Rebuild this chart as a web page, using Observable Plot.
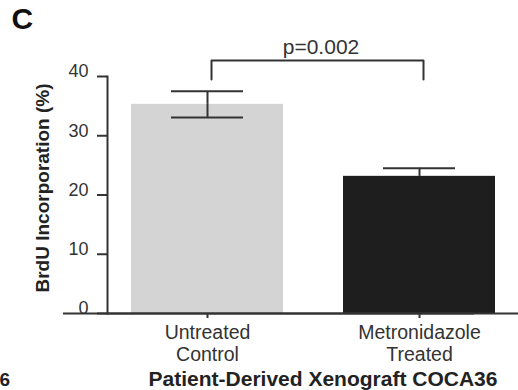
<!DOCTYPE html>
<html>
<head>
<meta charset="utf-8">
<script src="https://cdn.jsdelivr.net/npm/d3@7"></script>
<script src="https://cdn.jsdelivr.net/npm/@observablehq/plot@0.6"></script>
<style>
  html, body { margin: 0; padding: 0; background: #fff; }
  #chart svg { display: block; }
  #chart [aria-label="ytick-labels"] text { letter-spacing: 1px; }
  #chart [aria-label="xtick-labels"] text { letter-spacing: 0.5px; }
  #chart [aria-label="ylabel"] text { letter-spacing: 1px; }
  #chart [aria-label="xtitle"] text { letter-spacing: 0.5px; }
</style>
</head>
<body>
<div id="chart"></div>
<script>
// ---- data ----
const categories = ["Untreated\nControl", "Metronidazole\nTreated"];
const means = [35.3, 23.15];
const sems = [2.2, 1.35];
const barColors = ["#d4d4d4", "#1e1e1e"];
const yTicks = [0, 10, 20, 30, 40];
const yLabel = "BrdU Incorporation (%)";
const xTitle = "Patient-Derived Xenograft COCA36";
const pLabel = "p=0.002";
const bracketLow = 39.5;
const bracketHigh = 42.7;
const panelLetter = "C";
const neighborText = "6";

const bars = categories.map((c, i) => ({cat: c, mean: means[i], lo: means[i] - sems[i], hi: means[i] + sems[i], color: barColors[i]}));
const bracket = [
  {cat: categories[0], y: bracketLow},
  {cat: categories[0], y: bracketHigh},
  {cat: categories[1], y: bracketHigh},
  {cat: categories[1], y: bracketLow}
];

const ink = "#333";
// lower half of an error bar is drawn in ink over light bars, and disappears into dark bars
const lowerInk = d => (d3.lab(d.color).l > 50 ? ink : d.color);

const chart = Plot.plot({
  width: 518,
  height: 390,
  marginTop: 76,
  marginBottom: 77,
  marginLeft: 107,
  marginRight: 0,
  style: {fontFamily: "'Liberation Sans', Arial, sans-serif", color: ink, background: "#fff", overflow: "visible"},
  x: {domain: categories, paddingInner: 0.285, paddingOuter: 0.108, axis: null},
  y: {domain: [0, 40], axis: null},
  marks: [
    Plot.barY(bars, {x: "cat", y: "mean", fill: "color"}),
    Plot.ruleX(bars, {x: "cat", y1: "mean", y2: "hi", stroke: ink, strokeWidth: 2}),
    Plot.ruleX(bars, {x: "cat", y1: "lo", y2: "mean", stroke: lowerInk, strokeWidth: 2}),
    Plot.tickY(bars, {x: "cat", y: "hi", stroke: ink, strokeWidth: 2, insetLeft: 40, insetRight: 40}),
    Plot.tickY(bars, {x: "cat", y: "lo", stroke: lowerInk, strokeWidth: 2, insetLeft: 40, insetRight: 40}),
    // axes lines
    Plot.frame({anchor: "left", stroke: ink, strokeWidth: 2}),
    Plot.ruleY([0], {stroke: ink, strokeWidth: 2}),
    Plot.ruleY([0], {stroke: ink, strokeWidth: 2, dx: -44}),
    // y axis ticks and labels
    Plot.axisY(yTicks, {tickSize: 10, tickFormat: () => "", stroke: ink, strokeWidth: 2}),
    Plot.axisY(yTicks, {tickSize: 0, tickPadding: 19, dy: -5, fontSize: 18, fill: ink, ariaLabel: "ytick-labels"}),
    // x axis ticks and labels
    Plot.axisX(categories, {tickSize: 5, tickPadding: 5, fontSize: 19.5, lineHeight: 1.13, fill: ink, stroke: ink, strokeWidth: 2, label: null, ariaLabel: "xtick-labels"}),
    // significance bracket
    Plot.line(bracket, {x: "cat", y: "y", dx: 4, stroke: ink, strokeWidth: 2}),
    Plot.text([pLabel], {frameAnchor: "top", lineAnchor: "middle", dx: 8, dy: -29, fontSize: 21, fill: ink}),
    // axis titles
    Plot.text([yLabel], {frameAnchor: "left", textAnchor: "middle", lineAnchor: "middle", rotate: -90, dx: -65, dy: -7, fontSize: 19, fontWeight: "bold", fill: "#222", ariaLabel: "ylabel"}),
    Plot.text([xTitle], {frameAnchor: "bottom", lineAnchor: "middle", dx: 10, dy: 65.5, fontSize: 21, fontWeight: "bold", fill: "#222", ariaLabel: "xtitle"}),
    // panel letter and neighbor fragment
    Plot.text([panelLetter], {frameAnchor: "top-left", textAnchor: "start", lineAnchor: "middle", dx: -96, dy: -57, fontSize: 30, fontWeight: "bold", fontFamily: "'Liberation Sans Narrow', 'Liberation Sans', sans-serif", fill: "#111"}),
    Plot.text([neighborText], {frameAnchor: "bottom-left", textAnchor: "start", lineAnchor: "middle", dx: -108, dy: 66, fontSize: 19, fontWeight: "bold", fill: "#222"})
  ]
});
document.getElementById("chart").append(chart);
</script>
</body>
</html>
